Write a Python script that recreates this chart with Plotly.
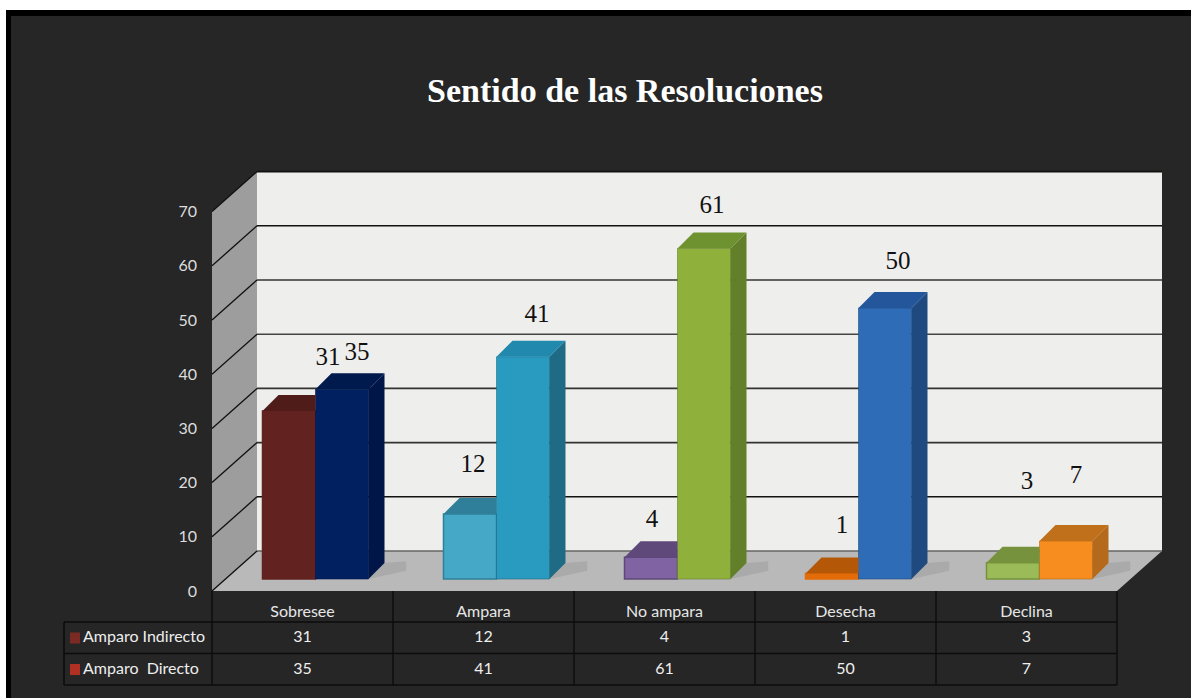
import plotly.graph_objects as go

# ---------- data ----------
categories = ["Sobresee", "Ampara", "No ampara", "Desecha", "Declina"]
series_names = ["Amparo Indirecto", "Amparo  Directo"]
amparo_indirecto = [31, 12, 4, 1, 3]
amparo_directo = [35, 41, 61, 50, 7]
y_ticks = [0, 10, 20, 30, 40, 50, 60, 70]

# ---------- colours per bar ----------
ind_front = ["#622320", "#46a8c7", "#8063a3", "#e36c09", "#9bbb59"]
ind_top = ["#4f1c1a", "#2f7f9b", "#5f497a", "#b45808", "#76923c"]
ind_edge = ["#622320", "#2f7f98", "#5f497a", "#e36c09", "#76923c"]
dir_front = ["#002060", "#2a9bc0", "#90b03c", "#2e6cb8", "#f78d1e"]
dir_top = ["#001a4e", "#2089ad", "#6f9230", "#24569b", "#c0701a"]
dir_side = ["#001648", "#1f6a85", "#62802a", "#1f4a80", "#b5691a"]
grid_colors = ["#666666", "#111111", "#333333", "#333333", "#444444", "#333333", "#111111", "#111111"]

# ---------- geometry ----------
W, H = 1191, 698
PX_X, PX_Y = 181.0, 5.42          # pixels per category / per value unit
FX, FY = 212.0, 591.0             # pixel of the front floor corner
DEPTH_X, DEPTH_Y = 45 / PX_X, 40 / PX_Y   # wall depth
BAR_X, BAR_Y = 13 / PX_X, 12 / PX_Y       # bar front plane inset
TOP_X, TOP_Y = 16 / PX_X, 16 / PX_Y       # bar depth
BAR_W = 53 / PX_X
ROW_Y = [(FY - 622) / PX_Y, (FY - 653.5) / PX_Y, (FY - 685) / PX_Y]
ROW_H = 16 / PX_Y
XMIN, XMAX = -FX / PX_X, (W - FX) / PX_X
YMIN, YMAX = (FY - H) / PX_Y, FY / PX_Y
n = len(categories)
centers = [i + 0.5 for i in range(n)]
ymax_axis = y_ticks[-1]

WALL, SIDE, FLOOR, PANEL, LINE = "#eeeeec", "#9d9d9d", "#b9b9b9", "#262626", "#0c0c0c"


def poly(xs, ys, color, layer="below", line=None):
    path = "M" + " L".join(f"{a:.4f},{b:.4f}" for a, b in zip(xs, ys)) + " Z"
    return dict(type="path", path=path, xref="x", yref="y", fillcolor=color,
                line=dict(width=0) if line is None else line, layer=layer)


def seg(x0, y0, x1, y1, color=LINE, width=1.5, layer="below"):
    return dict(type="line", x0=x0, y0=y0, x1=x1, y1=y1, xref="x", yref="y",
                line=dict(color=color, width=width), layer=layer)


shapes = [
    # white page margin, black frame and dark panel
    dict(type="rect", xref="paper", yref="paper", x0=0, x1=1, y0=0, y1=1, fillcolor="#ffffff",
         line=dict(width=0), layer="below"),
    dict(type="rect", xref="paper", yref="paper", x0=6 / W, x1=1, y0=0, y1=1 - 10 / H, fillcolor="#000000",
         line=dict(width=0), layer="below"),
    dict(type="rect", xref="paper", yref="paper", x0=11 / W, x1=1, y0=0, y1=1 - 16 / H, fillcolor=PANEL,
         line=dict(width=0), layer="below"),
    # back wall, side wall, floor
    poly([DEPTH_X, n + DEPTH_X, n + DEPTH_X, DEPTH_X],
         [DEPTH_Y, DEPTH_Y, ymax_axis + DEPTH_Y, ymax_axis + DEPTH_Y], WALL),
    poly([0, DEPTH_X, DEPTH_X, 0], [0, DEPTH_Y, ymax_axis + DEPTH_Y, ymax_axis], SIDE),
    poly([0, n, n + DEPTH_X, DEPTH_X], [0, 0, DEPTH_Y, DEPTH_Y], FLOOR),
]
for t, gc in zip(y_ticks, grid_colors):
    shapes.append(seg(DEPTH_X, t + DEPTH_Y, n + DEPTH_X, t + DEPTH_Y, gc, 1.6))
    shapes.append(seg(0, t, DEPTH_X, t + DEPTH_Y, "#111111", 1.3))

# soft floor shadows to the right of each bar
for i in range(n):
    x = centers[i] + BAR_X + BAR_W
    shapes.append(poly([x, x + TOP_X + 0.12, x + TOP_X + 0.12, x + TOP_X],
                       [BAR_Y, BAR_Y + 1.5, BAR_Y + TOP_Y + 0.3, BAR_Y + TOP_Y],
                       "rgba(70,70,70,0.13)"))

# data-table rules
table_left = (64 - FX) / PX_X
for r in ROW_Y:
    shapes.append(seg(table_left, r, n, r, width=1.6))
shapes.append(seg(table_left, ROW_Y[0], table_left, ROW_Y[2], width=1.6))
for i in range(n + 1):
    shapes.append(seg(i, 0, i, ROW_Y[2], width=1.4))

# legend keys of the table
key_colors = ["#7a2a22", "#b03024"]
for r, c in zip(ROW_Y, key_colors):
    x0 = (70 - FX) / PX_X
    x1 = (80 - FX) / PX_X
    y_mid = r - ROW_H
    shapes.append(poly([x0, x1, x1, x0], [y_mid - 5.5 / PX_Y, y_mid - 5.5 / PX_Y, y_mid + 5.5 / PX_Y, y_mid + 5.5 / PX_Y], c))

fig = go.Figure()

# front faces
x_ind = [c + BAR_X - BAR_W for c in centers]
x_dir = [c + BAR_X for c in centers]
fig.add_trace(go.Bar(x=[a + BAR_W / 2 for a in x_ind], y=amparo_indirecto, base=BAR_Y, width=BAR_W,
                     name=series_names[0], marker=dict(color=ind_front, line=dict(color=ind_edge, width=1.5))))
fig.add_trace(go.Bar(x=[a + BAR_W / 2 for a in x_dir], y=amparo_directo, base=BAR_Y, width=BAR_W,
                     name=series_names[1], marker=dict(color=dir_front, line=dict(color=dir_side, width=0.6))))


def face(xs, ys, color):
    fig.add_trace(go.Scatter(x=xs, y=ys, mode="lines", fill="toself", fillcolor=color,
                             line=dict(width=0), hoverinfo="skip"))


for i in range(n):
    # indirect bar top (its right end is hidden by the taller direct bar)
    l, r = x_ind[i], x_ind[i] + BAR_W
    t = amparo_indirecto[i] + BAR_Y
    face([l, l + TOP_X, r, r], [t, t + TOP_Y, t + TOP_Y, t], ind_top[i])
    # direct bar top and side
    l, r = x_dir[i], x_dir[i] + BAR_W
    t = amparo_directo[i] + BAR_Y
    face([l, l + TOP_X, r + TOP_X, r], [t, t + TOP_Y, t + TOP_Y, t], dir_top[i])
    face([r, r + TOP_X, r + TOP_X, r], [BAR_Y, BAR_Y + TOP_Y, t + TOP_Y, t], dir_side[i])

# value labels (hand-placed in the reference)
label_dx_ind = [39, 3, 1, 10, 14]
label_dy_ind = [52, 48, 37, 47, 80]
label_dx_dir = [15, 14, 8, 13, 10]
label_dy_dir = [36, 41, 42, 45, 64]
lab_x, lab_y, lab_t = [], [], []
for i in range(n):
    lab_x += [x_ind[i] + BAR_W / 2 + label_dx_ind[i] / PX_X, x_dir[i] + BAR_W / 2 + label_dx_dir[i] / PX_X]
    lab_y += [amparo_indirecto[i] + BAR_Y + label_dy_ind[i] / PX_Y, amparo_directo[i] + BAR_Y + label_dy_dir[i] / PX_Y]
    lab_t += [str(amparo_indirecto[i]), str(amparo_directo[i])]
fig.add_trace(go.Scatter(x=lab_x, y=lab_y, text=lab_t, mode="text", textposition="middle center",
                         textfont=dict(family="Liberation Serif", size=25, color="#111111"), hoverinfo="skip"))

# table values
tfont = dict(family="Lato", size=16, color="#eeeeee")
for idx, (r, vals) in enumerate(zip(ROW_Y, [amparo_indirecto, amparo_directo])):
    fig.add_trace(go.Scatter(x=centers, y=[r - ROW_H] * n, text=[str(v) for v in vals], mode="text",
                             textfont=tfont, hoverinfo="skip"))
    fig.add_trace(go.Scatter(x=[(83 - FX) / PX_X], y=[r - ROW_H], text=[series_names[idx]], mode="text",
                             textposition="middle right", textfont=tfont, hoverinfo="skip"))

fig.update_layout(
    width=W, height=H, autosize=False,
    margin=dict(l=0, r=0, t=0, b=0),
    paper_bgcolor=PANEL, plot_bgcolor=PANEL,
    barmode="overlay", showlegend=False,
    shapes=shapes,
    title=dict(text="<b>Sentido de las Resoluciones</b>", x=625 / W, xanchor="center", y=1 - 90 / H, yanchor="middle",
               font=dict(family="Liberation Serif", size=34, color="#ffffff")),
    xaxis=dict(range=[XMIN, XMAX], tickmode="array", tickvals=centers, ticktext=categories,
               showgrid=False, zeroline=False, showline=False, ticks="", anchor="free",
               position=(H - FY - 9) / H, tickfont=dict(family="Lato", size=16, color="#e6e6e6")),
    yaxis=dict(range=[YMIN, YMAX], tickmode="array", tickvals=y_ticks,
               showgrid=False, zeroline=False, showline=False, ticks="", anchor="free",
               position=197 / W, tickfont=dict(family="Lato", size=16, color="#dddddd")),
)

fig.write_html("out.html", config={"displayModeBar": False},
               post_script="document.body.style.margin='0';document.documentElement.style.overflow='hidden';")
